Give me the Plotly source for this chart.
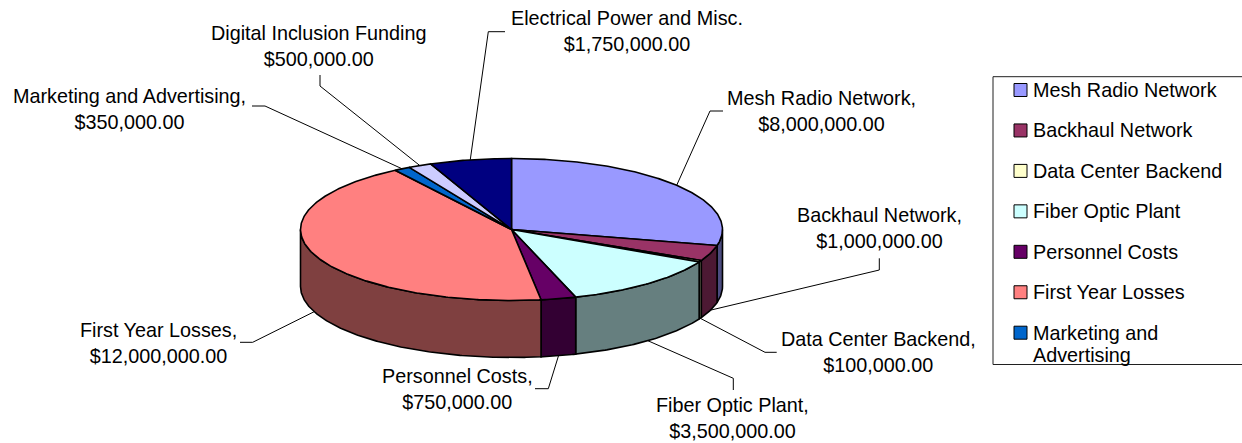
import numpy as np
import plotly.graph_objects as go

# ---------------- data ----------------
categories = ["Mesh Radio Network", "Backhaul Network", "Data Center Backend",
              "Fiber Optic Plant", "Personnel Costs", "First Year Losses",
              "Marketing and Advertising", "Digital Inclusion Funding",
              "Electrical Power and Misc."]
values = [8000000, 1000000, 100000, 3500000, 750000, 12000000, 350000, 500000, 1750000]
label_separators = [",", ",", ",", ",", ",", ",", ",", "", ""]
colors = ["#9999FF", "#993366", "#FFFFCC", "#CCFFFF", "#660066",
          "#FF8080", "#0066CC", "#CCCCFF", "#000080"]

# ---------------- layout constants (pixel space) ----------------
W, H = 1242, 443
CX, CY, RX, RY, DEPTH = 511.5, 229.5, 211.0, 71.0, 57.0
FONT = "Liberation Sans, Arial, sans-serif"
FS = 19.8

# label block centres and leader elbows (label side first)
label_layout = [
    (821.7, 110.5, [(723, 111), (710, 111)]),
    (879.0, 227.5, [(879.3, 258.3), (879.3, 270)]),
    (878.0, 351.7, [(776.7, 352.3), (765, 352.3)]),
    (732.5, 418.3, [(733.3, 390), (733.3, 378.3)]),
    (457.0, 389.0, [(535, 388.7), (548.3, 388.7)]),
    (158.3, 343.0, [(240, 342.3), (252.7, 342.3)]),
    (129.0, 109.0, [(252, 106), (265, 106)]),
    (318.5, 45.8, [(320, 75), (320, 86)]),
    (626.5, 30.7, [(505, 31.7), (488.3, 31.7)]),
]


def darken(hexc, f=0.5):
    h = hexc.lstrip("#")
    r, g, b = (int(h[i:i + 2], 16) for i in (0, 2, 4))
    return "#%02X%02X%02X" % (int(r * f), int(g * f), int(b * f))


def pt(a, dy=0.0):
    r = np.radians(a)
    return CX + RX * np.sin(r), CY - RY * np.cos(r) + dy


total = float(sum(values))
bounds = np.concatenate([[0.0], np.cumsum(values) / total * 360.0])

fig = go.Figure()

# side walls (front half only)
for i, c in enumerate(categories):
    a0, a1 = bounds[i], bounds[i + 1]
    lo, hi = max(a0, 90.0), min(a1, 270.0)
    if hi <= lo:
        continue
    ang = np.linspace(lo, hi, max(3, int((hi - lo) * 2)))
    xt, yt = pt(ang)
    xb, yb = pt(ang[::-1], DEPTH)
    xs = np.concatenate([xt, xb, xt[:1]])
    ys = np.concatenate([yt, yb, yt[:1]])
    fig.add_trace(go.Scatter(x=xs, y=ys, mode="lines", fill="toself",
                             fillcolor=darken(colors[i]),
                             line=dict(color="black", width=1.6),
                             hoverinfo="skip", showlegend=False))

# top faces
for i, c in enumerate(categories):
    a0, a1 = bounds[i], bounds[i + 1]
    ang = np.linspace(a0, a1, max(3, int((a1 - a0) * 2)))
    xa, ya = pt(ang)
    xs = np.concatenate([[CX], xa, [CX]])
    ys = np.concatenate([[CY], ya, [CY]])
    fig.add_trace(go.Scatter(x=xs, y=ys, mode="lines", fill="toself",
                             fillcolor=colors[i],
                             line=dict(color="black", width=1.6),
                             hoverinfo="skip", showlegend=False))

# data labels and leader lines
for i, c in enumerate(categories):
    tx, ty, elbow = label_layout[i]
    mid = (bounds[i] + bounds[i + 1]) / 2.0
    if 90.0 < mid < 270.0:
        px, py = pt(mid, DEPTH)
    else:
        px, py = pt(mid)
    lx = [p[0] for p in elbow] + [px]
    ly = [p[1] for p in elbow] + [py]
    fig.add_trace(go.Scatter(x=lx, y=ly, mode="lines",
                             line=dict(color="black", width=1),
                             hoverinfo="skip", showlegend=False))
    text = f"{c}{label_separators[i]}<br>${values[i]:,.2f}"
    fig.add_annotation(x=tx, y=ty, xref="x", yref="y", text=text,
                       showarrow=False, xanchor="center", yanchor="middle",
                       align="center", font=dict(family=FONT, size=FS, color="black"))

# manual legend (clipped like the original: right edge runs off the chart)
LX0, LY0, LX1, LY1 = 993.0, 76.7, 1262.0, 364.5
ROW0, ROWSTEP = 90.0, 40.45
fig.add_shape(type="rect", x0=LX0, y0=LY0, x1=LX1, y1=LY1, xref="x", yref="y",
              line=dict(color="#202020", width=1), fillcolor="white", layer="below")
for i, c in enumerate(categories):
    ry = ROW0 + i * ROWSTEP
    if ry > LY1 - 15:
        break
    fig.add_shape(type="rect", x0=1014, x1=1027, y0=ry - 6.5, y1=ry + 6.5,
                  xref="x", yref="y", fillcolor=colors[i],
                  line=dict(color="black", width=1))
    if len(c) > 20:
        head, tail = c.rsplit(" ", 1)
        lines = [head, tail]
    else:
        lines = [c]
    for k, ln in enumerate(lines):
        fig.add_annotation(x=1031.0, y=ry + k * 22.3, xref="x", yref="y", text=ln,
                           showarrow=False, xanchor="left", yanchor="middle",
                           font=dict(family=FONT, size=FS, color="black"))

fig.update_layout(
    width=W, height=H, autosize=False,
    margin=dict(l=0, r=0, t=0, b=0),
    paper_bgcolor="white", plot_bgcolor="white",
    showlegend=False,
    xaxis=dict(range=[0, W], visible=False, fixedrange=True),
    yaxis=dict(range=[H, 0], visible=False, fixedrange=True),
)

fig.write_html("out.html", config={"displayModeBar": False},
               post_script="document.body.style.margin='0';"
                           "document.body.style.overflow='hidden';")
